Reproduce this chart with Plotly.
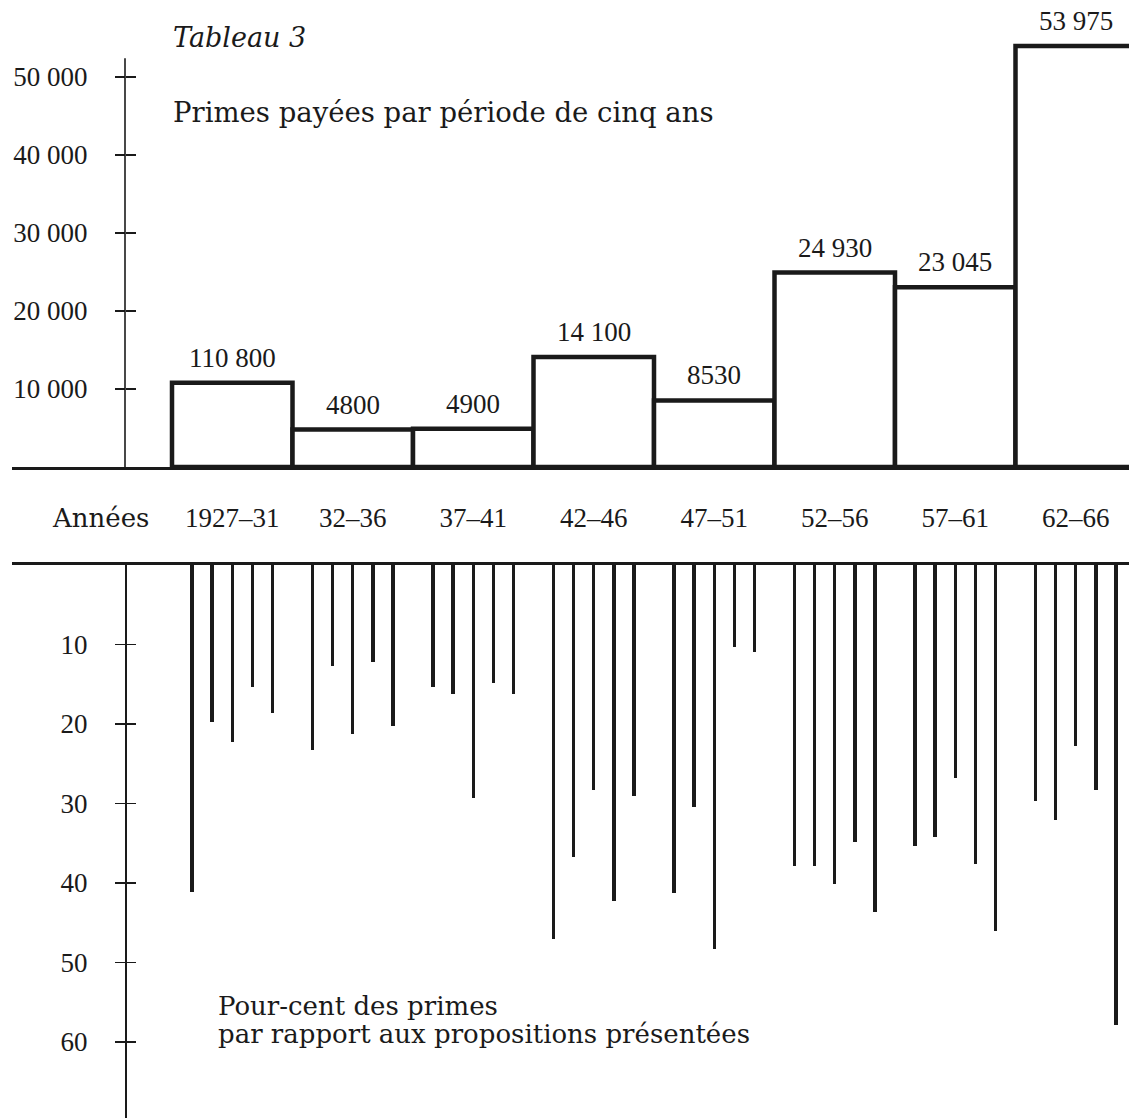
import plotly.graph_objects as go

# ---------------- data ----------------
periods = ["1927–31", "32–36", "37–41", "42–46", "47–51", "52–56", "57–61", "62–66"]
premiums = [10800, 4800, 4900, 14100, 8530, 24930, 23045, 53975]
premium_labels = ["110 800", "4800", "4900", "14 100", "8530", "24 930", "23 045", "53 975"]

years = list(range(1927, 1967))
percent = [41.1, 19.8, 22.3, 15.4, 18.6,
           23.3, 12.7, 21.3, 12.2, 20.3,
           15.3, 16.2, 29.3, 14.8, 16.2,
           47.0, 36.7, 28.3, 42.3, 29.0,
           41.3, 30.4, 48.3, 10.3, 11.0,
           37.8, 37.8, 40.1, 34.8, 43.7,
           35.4, 34.2, 26.8, 37.6, 46.0,
           29.7, 32.1, 22.8, 28.3, 57.8]

top_tickvals = [10000, 20000, 30000, 40000, 50000]
top_ticktext = ["10 000", "20 000", "30 000", "40 000", "50 000"]
bottom_tickvals = [10, 20, 30, 40, 50, 60]
bottom_ticktext = ["10", "20", "30", "40", "50", "60"]

# ---------------- layout geometry ----------------
W, H = 1129, 1118
X0_PX, PX_PER_YEAR = 172, 24.1
AXIS_PX = 125
TOP_BASE_PX = 467
TOP_PX_PER_UNIT = 7.8 / 1000
BOT_ZERO_PX = 565
BOT_PX_PER_UNIT = 7.95

def px_x(p):
    return p / W

def px_y(p):
    return 1 - p / H

x_range = [(12 - X0_PX) / PX_PER_YEAR, (W - X0_PX) / PX_PER_YEAR]
x_domain = [12 / W, 1]

NUM_FONT = "Liberation Serif"
TXT_FONT = "DejaVu Serif"
INK = "#1a1a1a"

period_first_year = years[0]
period_centers = [5 * i + 2.5 for i in range(len(periods))]
line_x = [(y - period_first_year) // 5 * 5 + ((y - period_first_year) % 5 + 1) * 5 / 6
          for y in years]

fig = go.Figure()

# Top: five-year premium bars (outlined rectangles)
fig.add_trace(go.Bar(
    x=period_centers, y=premiums, width=5,
    marker=dict(color="white", line=dict(color=INK, width=4.5)),
    xaxis="x", yaxis="y", showlegend=False, hoverinfo="skip"))

# Bottom: yearly percentage lines hanging down
fig.add_trace(go.Bar(
    x=line_x, y=percent, width=0.14,
    marker=dict(color=INK, line=dict(width=0)),
    xaxis="x2", yaxis="y2", showlegend=False, hoverinfo="skip"))

top_range_max = TOP_BASE_PX / TOP_PX_PER_UNIT
bot_range_max = (H - BOT_ZERO_PX) / BOT_PX_PER_UNIT
axis_pos = AXIS_PX / W

fig.update_layout(
    width=W, height=H,
    margin=dict(l=0, r=0, t=0, b=0),
    paper_bgcolor="white", plot_bgcolor="rgba(0,0,0,0)",
    bargap=0,
    xaxis=dict(domain=x_domain, range=x_range, anchor="y",
               showgrid=False, zeroline=False,
               showline=True, linecolor=INK, linewidth=3,
               tickvals=period_centers, ticktext=periods, ticks="",
               ticklabelstandoff=25,
               tickfont=dict(family=NUM_FONT, size=27, color=INK)),
    yaxis=dict(domain=[px_y(TOP_BASE_PX), 1], range=[0, top_range_max],
               anchor="free", position=axis_pos,
               showgrid=False, zeroline=False, showline=False,
               tickvals=top_tickvals, ticktext=top_ticktext,
               ticks="outside", ticklen=10, tickwidth=1.6, tickcolor=INK,
               ticklabelstandoff=22,
               tickfont=dict(family=NUM_FONT, size=27, color=INK)),
    yaxis3=dict(overlaying="y", range=[0, top_range_max],
                anchor="free", position=axis_pos,
                showgrid=False, zeroline=False, showline=False,
                tickvals=top_tickvals, showticklabels=False,
                ticks="inside", ticklen=10, tickwidth=1.6, tickcolor=INK),
    xaxis2=dict(domain=x_domain, range=x_range, anchor="y2", side="top",
                showgrid=False, zeroline=False,
                showline=True, linecolor=INK, linewidth=3,
                showticklabels=False, ticks=""),
    yaxis2=dict(domain=[0, px_y(BOT_ZERO_PX)], range=[bot_range_max, 0],
                anchor="free", position=axis_pos,
                showgrid=False, zeroline=False,
                showline=True, linecolor=INK, linewidth=1.6,
                tickvals=bottom_tickvals, ticktext=bottom_ticktext,
                ticks="outside", ticklen=10, tickwidth=1.6, tickcolor=INK,
                ticklabelstandoff=22,
                tickfont=dict(family=NUM_FONT, size=27, color=INK)),
    yaxis4=dict(overlaying="y2", range=[bot_range_max, 0],
                anchor="free", position=axis_pos,
                showgrid=False, zeroline=False, showline=False,
                tickvals=bottom_tickvals, showticklabels=False,
                ticks="inside", ticklen=10, tickwidth=1.6, tickcolor=INK),
)

# invisible traces so the overlay axes are drawn
fig.add_trace(go.Scatter(x=[None], y=[None], xaxis="x", yaxis="y3",
                         showlegend=False, hoverinfo="skip"))
fig.add_trace(go.Scatter(x=[None], y=[None], xaxis="x2", yaxis="y4",
                         showlegend=False, hoverinfo="skip"))

# Vertical axis line of the top panel (stops below the top of the figure)
fig.add_shape(type="line", xref="paper", yref="y",
              x0=axis_pos, x1=axis_pos, y0=0, y1=52400,
              line=dict(color=INK, width=1.6))

# Value labels above bars
for xc, v, lab in zip(period_centers, premiums, premium_labels):
    fig.add_annotation(x=xc, y=v, xref="x", yref="y", text=lab,
                       showarrow=False, yanchor="bottom", yshift=8,
                       font=dict(family=NUM_FONT, size=27, color=INK))

# Titles and captions
fig.add_annotation(x=px_x(171), y=px_y(37), xref="paper", yref="paper",
                   text="<i>Tableau 3</i>", showarrow=False,
                   xanchor="left", yanchor="middle",
                   font=dict(family=TXT_FONT, size=27, color=INK))
fig.add_annotation(x=px_x(171), y=px_y(112), xref="paper", yref="paper",
                   text="Primes payées par période de cinq ans", showarrow=False,
                   xanchor="left", yanchor="middle",
                   font=dict(family=TXT_FONT, size=27.5, color=INK))
fig.add_annotation(x=px_x(100), y=px_y(518), xref="paper", yref="paper",
                   text="Années", showarrow=False,
                   xanchor="center", yanchor="middle",
                   font=dict(family=TXT_FONT, size=26, color=INK))
fig.add_annotation(x=px_x(216), y=px_y(1006), xref="paper", yref="paper",
                   text="Pour-cent des primes", showarrow=False,
                   xanchor="left", yanchor="middle",
                   font=dict(family=TXT_FONT, size=26, color=INK))
fig.add_annotation(x=px_x(216), y=px_y(1034), xref="paper", yref="paper",
                   text="par rapport aux propositions présentées", showarrow=False,
                   xanchor="left", yanchor="middle",
                   font=dict(family=TXT_FONT, size=26, color=INK))

fig.write_html("out.html",
               config={"displayModeBar": False, "staticPlot": True},
               post_script="document.body.style.margin='0';"
                           "document.body.style.overflow='hidden';")
